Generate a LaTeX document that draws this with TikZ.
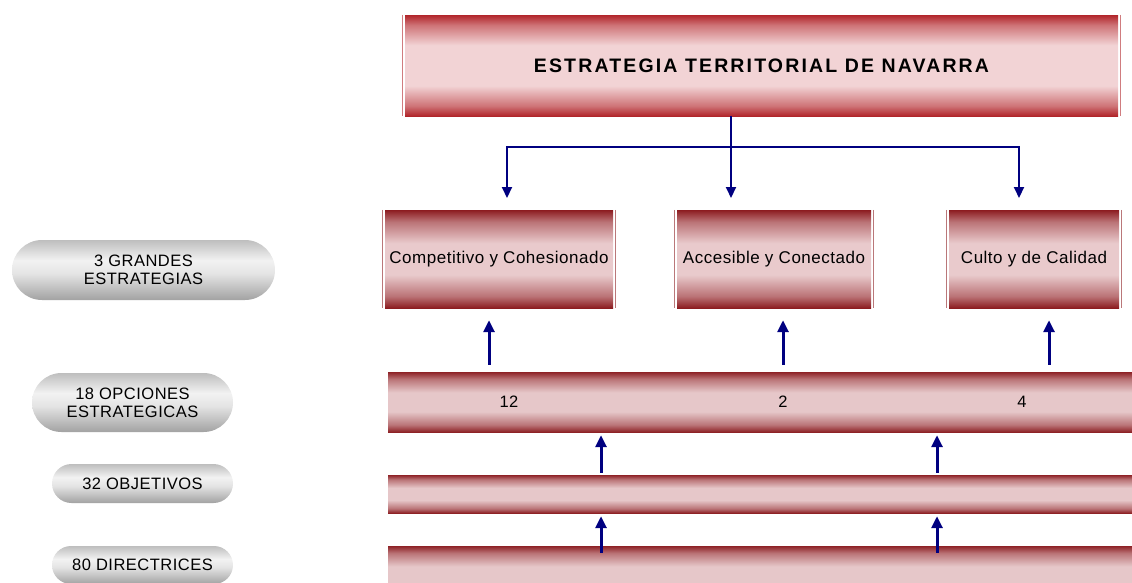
\documentclass[tikz,border=0pt]{standalone}
\usepackage{fontspec}
\setmainfont{Liberation Sans}[LetterSpace=3]
\usetikzlibrary{arrows.meta,shapes.misc}
\definecolor{topEdge}{HTML}{B1252A}
\definecolor{topLight}{HTML}{F2D3D5}
\definecolor{midEdge}{HTML}{8C1C20}
\definecolor{midLight}{HTML}{E9CACC}
\definecolor{barEdge}{HTML}{8E2226}
\definecolor{barLight}{HTML}{E6C7C9}
\definecolor{pillTop}{HTML}{BEBEBE}
\definecolor{pillLight}{HTML}{F2F2F2}
\definecolor{pillMid}{HTML}{E4E4E4}
\definecolor{pillBot}{HTML}{A2A2A2}
\definecolor{navy}{HTML}{000080}
\pgfdeclareverticalshading{topshade}{100bp}{color(0bp)=(topEdge); color(25bp)=(topEdge); color(30bp)=(topEdge!55!topLight); color(40bp)=(topLight); color(60bp)=(topLight); color(70bp)=(topEdge!55!topLight); color(75bp)=(topEdge); color(100bp)=(topEdge)}
\pgfdeclareverticalshading{midshade}{100bp}{color(0bp)=(midEdge); color(25bp)=(midEdge); color(31bp)=(midEdge!50!midLight); color(42bp)=(midLight); color(58bp)=(midLight); color(69bp)=(midEdge!50!midLight); color(75bp)=(midEdge); color(100bp)=(midEdge)}
\pgfdeclareverticalshading{barshade}{100bp}{color(0bp)=(barEdge); color(25bp)=(barEdge); color(31bp)=(barEdge!50!barLight); color(42bp)=(barLight); color(58bp)=(barLight); color(69bp)=(barEdge!50!barLight); color(75bp)=(barEdge); color(100bp)=(barEdge)}
\pgfdeclareverticalshading{pillshade}{100bp}{color(0bp)=(pillBot); color(25bp)=(pillBot); color(47bp)=(pillMid); color(58bp)=(pillLight); color(75bp)=(pillTop); color(100bp)=(pillTop)}
\begin{document}
\begin{tikzpicture}[x=1pt,y=-1pt,
  txt/.style={font=\fontsize{16.5}{18}\selectfont, text=black},
  boxtxt/.style={font=\fontsize{17}{19}\selectfont, text=black},
  topbox/.style={rectangle, inner sep=0pt, shade, shading=topshade, font=\bfseries\fontsize{19.5}{22}\selectfont\addfontfeature{LetterSpace=11}},
  midbox/.style={rectangle, inner sep=0pt, shade, shading=midshade, boxtxt},
  barbox/.style={rectangle, inner sep=0pt, shade, shading=barshade},
  pill/.style={rounded rectangle, inner sep=0pt, shade, shading=pillshade, txt, align=center},
  sideline/.style={draw=topEdge!60!white, line width=0.8pt},
  arr/.style={draw=navy, line width=2pt, -{Triangle[length=11pt,width=10pt]}},
  uarr/.style={draw=navy, line width=3pt, -{Triangle[length=12pt,width=11pt]}}]
\useasboundingbox (0,0) rectangle (1132,582);
\clip (0,0) rectangle (1132,582);
% top box
\node[topbox, minimum width=713pt, minimum height=101pt] (top) at (761.5,65.5) {ESTRATEGIA TERRITORIAL DE NAVARRA};
\draw[sideline] ([xshift=-2pt]top.north west) -- ([xshift=-2pt]top.south west);
\draw[sideline] ([xshift=2pt]top.north east) -- ([xshift=2pt]top.south east);
% three strategies
\node[midbox, minimum width=228pt, minimum height=98pt] (c1) at (499,259) {Competitivo y Cohesionado};
\node[midbox, minimum width=194pt, minimum height=98pt] (c2) at (774,259) {Accesible y Conectado};
\node[midbox, minimum width=170pt, minimum height=98pt] (c3) at (1034,259) {Culto y de Calidad};
\foreach \b in {c1,c2,c3}{
  \draw[sideline, draw=midEdge!60!white] ([xshift=-2pt]\b.north west) -- ([xshift=-2pt]\b.south west);
  \draw[sideline, draw=midEdge!60!white] ([xshift=2pt]\b.north east) -- ([xshift=2pt]\b.south east);
}
% bars
\node[barbox, minimum width=752pt, minimum height=60pt] (bar1) at (764,402) {};
\node[barbox, minimum width=752pt, minimum height=38pt] (bar2) at (764,494) {};
\node[barbox, minimum width=752pt, minimum height=60pt] (bar3) at (764,576) {};
\node[txt] (n12) at (509,402) {12};
\node[txt] (n2) at (783,402) {2};
\node[txt] (n4) at (1022,402) {4};
% left pills
\node[pill, minimum width=263pt, minimum height=60pt] (p1) at (143.5,270) {3 GRANDES\\ESTRATEGIAS};
\node[pill, minimum width=201pt, minimum height=59pt] (p2) at (132.5,402.5) {18 OPCIONES\\ESTRATEGICAS};
\node[pill, minimum width=181pt, minimum height=39pt] (p3) at (142.5,483.5) {32 OBJETIVOS};
\node[pill, minimum width=181pt, minimum height=38pt] (p4) at (142.5,565) {80 DIRECTRICES};
% tree from top box
\coordinate (j) at (731,147);
\coordinate (a1) at (507,198);
\coordinate (a2) at (731,198);
\coordinate (a3) at (1019,198);
\draw[arr] (top.south -| j) -- (a2);
\draw[arr] (j) -| (a1);
\draw[arr] (j) -| (a3);
% up arrows bar1 -> boxes
\coordinate (u1) at (489,0);
\coordinate (u2) at (783,0);
\coordinate (u3) at (1049,0);
\draw[uarr, shorten <=7pt, shorten >=12pt] (bar1.north -| u1) -- (c1.south -| u1);
\draw[uarr, shorten <=7pt, shorten >=12pt] (bar1.north -| u2) -- (c2.south -| u2);
\draw[uarr, shorten <=7pt, shorten >=12pt] (bar1.north -| u3) -- (c3.south -| u3);
% up arrows between bars
\coordinate (v1) at (601,0);
\coordinate (v2) at (937,0);
\draw[uarr, shorten <=2pt, shorten >=3pt] (bar2.north -| v1) -- (bar1.south -| v1);
\draw[uarr, shorten <=2pt, shorten >=3pt] (bar2.north -| v2) -- (bar1.south -| v2);
\draw[uarr, shorten <=-7pt, shorten >=3pt] (bar3.north -| v1) -- (bar2.south -| v1);
\draw[uarr, shorten <=-7pt, shorten >=3pt] (bar3.north -| v2) -- (bar2.south -| v2);
\end{tikzpicture}
\end{document}
